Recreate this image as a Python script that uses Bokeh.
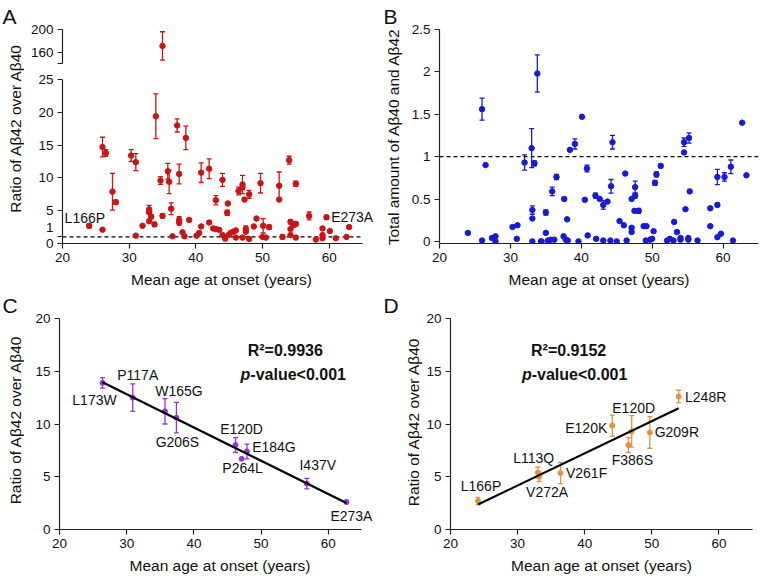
import numpy as np
from bokeh.plotting import figure
from bokeh.models import (ColumnDataSource, Whisker, TeeHead, Label, LabelSet,
                          FixedTicker, Range1d)
from bokeh.core.properties import value
from bokeh.layouts import column, row
from bokeh.embed import file_html
from bokeh.resources import INLINE

FONT = "Liberation Sans"
TICK_SIZE = "13.5px"
TITLE_SIZE = "15.5px"
X_TICKS = [20, 30, 40, 50, 60]
X_MIN, X_MAX = 20, 65
X_TITLE = "Mean age at onset (years)"
RATIO_TITLE = "Ratio of A\u03b242 over A\u03b240"
TOTAL_TITLE = "Total amount of A\u03b240 and A\u03b242"

# ---------------- Panel A : ratio Abeta42/Abeta40, all mutants ----------------
A_AGE = [24.0, 26.0, 26.0, 26.5, 27.5, 28.0, 30.3, 31.0, 31.0, 32.0,
         33.0, 33.0, 33.3, 33.0, 33.8, 34.0, 34.7, 35.0, 35.0, 35.8,
         36.0, 36.3, 36.5, 37.2, 37.5, 37.5, 37.5, 38.0, 38.3, 38.5,
         39.0, 40.1, 40.5, 40.8, 40.8, 42.0, 42.0, 42.6, 43.0, 43.0,
         43.5, 44.0, 44.0, 44.4, 44.7, 44.8, 44.9, 45.2, 45.6, 46.0,
         46.0, 46.4, 47.0, 47.0, 47.0, 47.3, 47.5, 47.5, 48.0, 48.0,
         48.7, 49.1, 49.7, 50.0, 50.1, 50.5, 51.0, 52.5, 52.5, 53.0,
         54.0, 54.2, 54.2, 54.2, 54.6, 55.0, 55.0, 55.0, 57.0, 58.0,
         59.0, 59.0, 59.0, 59.6, 60.1, 61.0, 62.6, 63.0]
A_RATIO = [2.7, 2.1, 14.7, 13.8, 7.9, 6.3, 13.4, 12.4, 1.2, 2.7,
           5.2, 4.8, 4.1, 3.4, 2.9, 19.4, 9.6, 4.2, 171.0, 11.0,
           9.4, 5.3, 1.1, 18.0, 10.6, 3.6, 3.2, 1.7, 1.1, 16.1,
           3.6, 1.2, 1.6, 10.8, 2.6, 11.4, 3.2, 2.3, 6.6, 2.2,
           2.1, 9.7, 1.3, 0.8, 4.7, 6.1, 1.3, 1.6, 1.8, 2.0,
           0.9, 8.0, 9.0, 8.6, 0.9, 6.7, 2.2, 1.8, 0.7, 7.5,
           2.6, 3.8, 9.2, 1.0, 2.7, 0.9, 2.5, 8.8, 6.7, 1.0,
           12.7, 3.3, 2.2, 1.3, 2.8, 3.0, 9.1, 0.9, 4.2, 0.6,
           1.3, 2.3, 0.8, 4.0, 1.9, 0.8, 1.0, 2.5]
A_ERR = [0.3, 0.0, 1.5, 0.5, 2.8, 0.3, 0.9, 1.3, 0.0, 0.0,
         0.6, 0.3, 0.3, 0.0, 0.3, 3.4, 0.6, 0.3, 25.0, 1.2,
         1.8, 0.9, 0.0, 1.0, 1.5, 0.5, 0.4, 0.0, 0.0, 1.8,
         0.0, 0.0, 0.0, 1.5, 0.0, 1.5, 0.0, 0.0, 0.7, 0.0,
         0.0, 1.0, 0.0, 0.4, 0.4, 0.0, 0.0, 0.0, 0.0, 0.0,
         0.0, 0.6, 1.4, 0.4, 0.0, 0.0, 0.5, 0.0, 0.0, 0.6,
         0.0, 0.0, 1.5, 0.0, 1.1, 0.0, 0.3, 2.1, 0.0, 0.3,
         0.6, 0.3, 0.0, 0.0, 0.3, 0.3, 0.4, 0.0, 0.6, 0.0,
         0.0, 0.0, 0.0, 0.3, 0.0, 0.0, 0.0, 0.0]
A_Y_TICKS_LOW = [0, 1, 5, 10, 15, 20, 25]
A_Y_TICKS_HIGH = [140, 160, 200]
A_REF_LEVEL = 1

# ---------------- Panel B : total amount of Abeta40 + Abeta42 ----------------
B_AGE = [24.0, 26.0, 26.0, 26.5, 27.4, 27.9, 27.9, 30.3, 31.0, 30.9,
         32.0, 33.0, 33.1, 33.1, 33.1, 33.4, 33.8, 34.3, 35.0, 35.0,
         35.9, 36.5, 37.6, 38.0, 38.4, 39.1, 40.1, 40.5, 40.8, 40.9,
         42.0, 42.6, 43.1, 43.7, 44.2, 44.4, 45.4, 46.0, 46.2, 47.1,
         47.1, 47.1, 47.6, 47.6, 47.5, 48.1, 48.8, 49.2, 50.2, 50.4,
         50.6, 51.2, 53.1, 53.5, 54.5, 54.5, 54.7, 55.2, 55.3, 58.2,
         58.2, 59.2, 59.2, 59.2, 59.7, 60.2, 61.1, 61.4, 62.7, 63.3,
         35.3, 35.7, 36.2, 37.5, 37.8, 38.1, 39.6, 42.1, 43.1, 44.1,
         45.0, 46.4, 49.1, 49.7, 50.0, 52.1, 52.5, 53.0, 54.0, 54.0,
         55.1, 55.1, 56.4, 34.4]
B_TOTAL = [0.10, 0.01, 1.56, 0.90, 0.04, 0.06, 0.00, 0.17, 0.19, 0.03,
           0.93, 1.10, 0.37, 0.27, 0.00, 0.92, 1.98, 0.00, 0.10, 0.34,
           0.59, 0.76, 0.50, 0.26, 1.08, 1.15, 1.47, 0.49, 0.86, 0.07,
           0.54, 0.50, 0.43, 0.47, 0.65, 1.17, 0.24, 0.19, 0.80, 0.50,
           0.16, 0.11, 0.54, 0.64, 0.36, 0.36, 0.18, 0.18, 0.12, 0.69,
           0.79, 0.89, 0.23, 0.11, 1.17, 1.05, 0.38, 1.22, 0.59, 0.39,
           0.18, 0.76, 0.43, 0.05, 0.09, 0.76, 0.88, 0.01, 1.40, 0.78,
           0.01, 0.02, 0.02, 0.06, 0.02, 0.01, 0.00, 0.03, 0.01, 0.01,
           0.00, 0.01, 0.01, 0.02, 0.03, 0.01, 0.03, 0.01, 0.02, 0.04,
           0.02, 0.04, 0.01, 0.00]
B_ERR = [0.0, 0.0, 0.13, 0.0, 0.0, 0.0, 0.0, 0.0, 0.0, 0.0,
         0.09, 0.23, 0.05, 0.0, 0.0, 0.03, 0.22, 0.0, 0.0, 0.03,
         0.05, 0.03, 0.02, 0.0, 0.0, 0.06, 0.0, 0.0, 0.04, 0.0,
         0.03, 0.0, 0.05, 0.0, 0.08, 0.08, 0.0, 0.0, 0.0, 0.0,
         0.02, 0.0, 0.03, 0.07, 0.0, 0.03, 0.0, 0.0, 0.0, 0.03,
         0.03, 0.02, 0.0, 0.0, 0.05, 0.0, 0.0, 0.06, 0.0, 0.0,
         0.0, 0.09, 0.02, 0.0, 0.0, 0.05, 0.08, 0.0, 0.0, 0.0,
         0.0, 0.0, 0.0, 0.0, 0.0, 0.0, 0.0, 0.0, 0.0, 0.0,
         0.0, 0.0, 0.0, 0.0, 0.0, 0.0, 0.0, 0.0, 0.0, 0.0,
         0.0, 0.0, 0.0, 0.0]
B_Y_TICKS = [0, 0.5, 1, 1.5, 2, 2.5]
B_REF_LEVEL = 1

# ---------------- Panel C ----------------
C_MUT = ["L173W", "P117A", "W165G", "G206S", "E120D", "E184G", "P264L", "I437V", "E273A"]
C_AGE = [26.4, 30.9, 35.7, 37.4, 46.2, 47.9, 47.1, 56.8, 62.7]
C_RATIO = [13.9, 12.5, 11.2, 10.6, 8.0, 7.4, 6.7, 4.35, 2.6]
C_ERR = [0.5, 1.3, 1.2, 1.45, 0.7, 0.7, 0.0, 0.5, 0.15]
C_R2 = "R\u00b2=0.9936"

# ---------------- Panel D ----------------
D_MUT = ["L166P", "L113Q", "V272A", "V261F", "E120K", "E120D", "F386S", "G209R", "L248R"]
D_AGE = [24.1, 33.0, 33.2, 36.4, 44.1, 47.0, 46.5, 49.7, 54.0]
D_RATIO = [2.7, 5.4, 5.0, 5.35, 9.85, 9.3, 8.0, 9.2, 12.6]
D_ERR = [0.35, 0.5, 0.45, 1.0, 1.0, 1.5, 0.7, 1.5, 0.6]
D_R2 = "R\u00b2=0.9152"
P_TEXT = "-value<0.001"
Y_TICKS_CD = [0, 5, 10, 15, 20]

# label placement (screen px, dx right / dy down)
C_LAB_DX = [-8, 5, 14, 1, 6, 27, 1, 11, 5]
C_LAB_DY = [17, -23, -20, 24, -16, -4, 9, -19, 14]
D_LAB_DX = [3, -4, 8, 26, -26, 2, 4, 27, 27]
D_LAB_DY = [-15, -15, 15, 0, 2, -23, 15, 0, 0]

A_COLOR = "#CC1414"
B_COLOR = "#1A1AD6"
C_COLOR = "#9A35D5"
D_COLOR = "#E5913F"
AXIS_COLOR = "#222222"
TEXT_COLOR = "#111111"


def make_fig(w, h, xr, yr, left, right, top, bottom, letter=None, letter_offset=0):
    kw = dict(title=letter, title_location="above") if letter else dict(title_location=None)
    p = figure(width=w, height=h, x_range=Range1d(*xr), y_range=Range1d(*yr),
               output_backend="svg", toolbar_location=None,
               min_border_left=left, min_border_right=right,
               min_border_top=top, min_border_bottom=bottom, **kw)
    if letter:
        style_title(p, letter_offset)
    p.outline_line_color = None
    p.grid.visible = False
    for ax in p.axis:
        ax.axis_line_color = AXIS_COLOR
        ax.axis_line_width = 1.2
        ax.major_tick_line_color = AXIS_COLOR
        ax.major_tick_line_width = 1.2
        ax.major_tick_out = 5
        ax.major_tick_in = 0
        ax.minor_tick_line_color = None
        ax.major_label_text_font = FONT
        ax.major_label_text_font_size = TICK_SIZE
        ax.major_label_text_color = TEXT_COLOR
        ax.major_label_standoff = 4
        ax.axis_label_text_font = FONT
        ax.axis_label_text_font_size = TITLE_SIZE
        ax.axis_label_text_font_style = "normal"
        ax.axis_label_text_color = TEXT_COLOR
        ax.axis_label_standoff = 6
    p.xaxis.ticker = FixedTicker(ticks=X_TICKS)
    p.xaxis.bounds = (X_MIN, X_MAX)
    return p


def style_title(p, offset):
    p.title.align = "left"
    p.title.offset = offset
    p.title.standoff = 3
    p.title.text_font = FONT
    p.title.text_font_size = "21px"
    p.title.text_font_style = "normal"
    p.title.text_color = TEXT_COLOR


def side_fig(w, h, top, bottom, letter, title, title_x, title_cy):
    # frame spans the same rows as the neighbouring plot frame; y is "minus pixels from top"
    s = figure(width=w, height=h, x_range=Range1d(0, w), y_range=Range1d(-(h - bottom), -top),
               output_backend="svg", toolbar_location=None, title=letter,
               title_location="above",
               min_border_left=0, min_border_right=0,
               min_border_top=top, min_border_bottom=bottom,
               x_axis_location=None, y_axis_location=None)
    s.outline_line_color = None
    s.grid.visible = False
    style_title(s, 2)
    s.add_layout(Label(x=title_x, y=-title_cy, text=title, angle=np.pi / 2,
                       text_font=FONT, text_font_size=TITLE_SIZE, text_color=TEXT_COLOR,
                       text_align="center", text_baseline="middle"))
    return s


def add_points(p, x, y, err, color, size=5.5):
    x = np.asarray(x, float)
    y = np.asarray(y, float)
    err = np.asarray(err, float)
    m = err > 0
    wsrc = ColumnDataSource(dict(x=x[m], upper=y[m] + err[m], lower=y[m] - err[m]))
    w = Whisker(base="x", upper="upper", lower="lower", source=wsrc,
                line_color=color, line_width=1.3,
                upper_head=TeeHead(size=5, line_color=color, line_width=1.3),
                lower_head=TeeHead(size=5, line_color=color, line_width=1.3))
    p.add_layout(w)
    p.scatter(x="x", y="y", source=ColumnDataSource(dict(x=x, y=y)),
              size=size, color=color)


def text_label(p, x, y, txt, dx=0, dy=0, size="14px", style="normal", align="center"):
    p.add_layout(Label(x=x, y=y, x_offset=dx, y_offset=-dy, text=txt,
                       text_font=FONT, text_font_size=size, text_font_style=style,
                       text_color=TEXT_COLOR, text_align=align, text_baseline="middle"))


def ref_line(p, level):
    p.segment(x0=[X_MIN], x1=[X_MAX], y0=[level], y1=[level], line_color="black",
              line_width=1.2, line_dash="4 3")


# ---------------- A ----------------
a_x = np.asarray(A_AGE, float)
a_y = np.asarray(A_RATIO, float)
a_e = np.asarray(A_ERR, float)
hi = a_y > 25

side_a = side_fig(24, 290, 29, 46, "A", RATIO_TITLE, 15, 128)

a_top = make_fig(357, 71, (20, 67.7), (140, 200), 38, 1, 29, 8)
a_top.xaxis.visible = False
a_top.yaxis.ticker = FixedTicker(ticks=A_Y_TICKS_HIGH)
a_top.yaxis.major_label_overrides = {140: ""}
add_points(a_top, a_x[hi], a_y[hi], a_e[hi], A_COLOR)

a_bot = make_fig(357, 219, (20, 67.7), (0, 25), 38, 1, 8, 46)
a_bot.yaxis.ticker = FixedTicker(ticks=A_Y_TICKS_LOW)
a_bot.yaxis.major_label_overrides = {1: "1\n "}
a_bot.xaxis.axis_label = X_TITLE
ref_line(a_bot, A_REF_LEVEL)
add_points(a_bot, a_x[~hi], a_y[~hi], a_e[~hi], A_COLOR)
text_label(a_bot, D_AGE[0], D_RATIO[0], D_MUT[0], dx=-5, dy=-8)
text_label(a_bot, C_AGE[-1], C_RATIO[-1], C_MUT[-1], dx=5, dy=-9)

# ---------------- B ----------------
b = make_fig(379, 290, (20, 65), (-0.025, 2.5), 58, 2, 29, 46, letter="B", letter_offset=-56)
b.yaxis.ticker = FixedTicker(ticks=B_Y_TICKS)
b.yaxis.major_label_overrides = {1: "1"}
b.yaxis.axis_label = TOTAL_TITLE
b.yaxis.axis_label_standoff = 7
b.xaxis.axis_label = X_TITLE
ref_line(b, B_REF_LEVEL)
add_points(b, B_AGE, B_TOTAL, B_ERR, B_COLOR)


# ---------------- C & D ----------------
def reg_panel(w, xend, left, right, mut, age, ratio, err, color, dxs, dys, r2, r2_pos, p_pos):
    p = make_fig(w, 287, (20, xend), (0, 20), left, right, 24, 48)
    p.yaxis.ticker = FixedTicker(ticks=Y_TICKS_CD)
    p.xaxis.axis_label = X_TITLE
    ax = np.asarray(age, float)
    ay = np.asarray(ratio, float)
    slope, icpt = np.polyfit(ax, ay, 1)
    xs = np.array([ax.min(), ax.max()])
    add_points(p, ax, ay, err, color, size=5)
    p.line(xs, slope * xs + icpt, line_color="black", line_width=2.2)
    src = ColumnDataSource(dict(x=ax, y=ay, t=mut, dx=dxs, dy=[-v for v in dys]))
    p.add_layout(LabelSet(x="x", y="y", text="t", x_offset="dx", y_offset="dy", source=src,
                          text_font=value(FONT), text_font_size="14px", text_color=TEXT_COLOR,
                          text_align="center", text_baseline="middle"))
    text_label(p, r2_pos[0], r2_pos[1], r2, size="16px", style="bold")
    text_label(p, p_pos[0], p_pos[1], "p", size="16px", style="bold italic", align="right")
    text_label(p, p_pos[0], p_pos[1], P_TEXT, size="16px", style="bold", align="left")
    return p


side_c = side_fig(24, 287, 24, 48, "C", RATIO_TITLE, 15, 127)
c = reg_panel(357, 67.77, 35, 1, C_MUT, C_AGE, C_RATIO, C_ERR, C_COLOR, C_LAB_DX, C_LAB_DY,
              C_R2, (53.6, 17.0), (48.4, 14.66))
side_d = side_fig(42, 287, 24, 48, "D", RATIO_TITLE, 32, 129)
d = reg_panel(337, 65, 27, 8, D_MUT, D_AGE, D_RATIO, D_ERR, D_COLOR, D_LAB_DX, D_LAB_DY,
              D_R2, (37.6, 17.0), (32.1, 14.66))

layout = column(row(side_a, column(a_top, a_bot), b),
                row(side_c, c, side_d, d))
open("out.html", "w").write(file_html(layout, INLINE))
